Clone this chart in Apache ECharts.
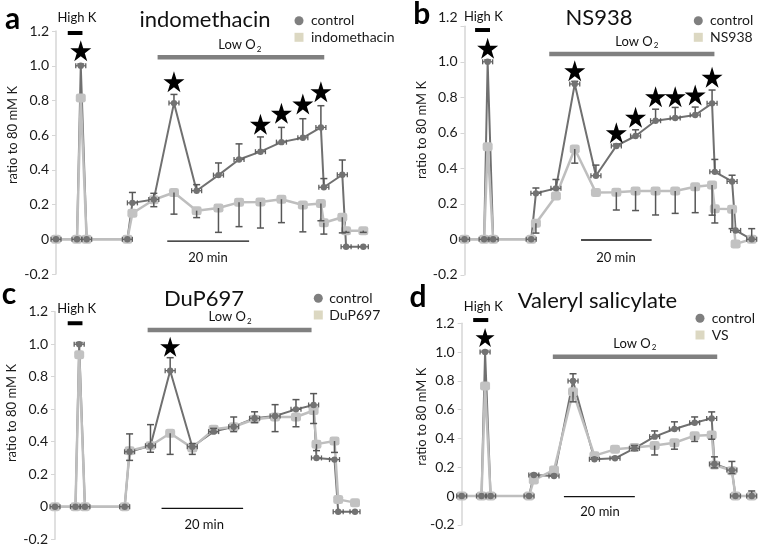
<!DOCTYPE html>
<html><head><meta charset="utf-8">
<script src="https://cdn.jsdelivr.net/npm/echarts@6/dist/echarts.min.js"></script>
<style>html,body{margin:0;padding:0;background:#fff}#c{width:761px;height:549px}</style>
</head><body><div id="c"></div>
<script>
// time of each sample (min)
const T = [0, 5, 5.9, 7.3, 17, 18.2, 23.3, 28.1, 33.5, 38.7, 43.6, 48.7, 53.7, 58.8, 63.1, 63.8, 68.2, 69.1, 73.2];
const yTicks = [-0.2, 0, 0.2, 0.4, 0.6, 0.8, 1.0, 1.2];

// panel a : indomethacin
const ctrlA    = [0, 0, 1.0, 0, 0, 0.21, 0.23, 0.785, 0.28, 0.37, 0.46, 0.505, 0.56, 0.585, 0.645, 0.30, 0.372, -0.043, -0.043];
const ctrlAErr = [0, 0, 0.01, 0, 0, 0.06, 0.035, 0.05, 0.035, 0.07, 0.09, 0.085, 0.085, 0.11, 0.125, 0.05, 0.085, 0, 0];
const indoA    = [0, 0, 0.815, 0, 0, 0.15, 0.228, 0.27, 0.165, 0.18, 0.213, 0.215, 0.231, 0.198, 0.207, 0.095, 0.127, 0.05, 0.05];
const indoAErr = [0, 0, 0, 0, 0, 0, 0.04, 0.125, 0.04, 0.14, 0.14, 0.15, 0.135, 0.155, 0.10, 0.065, 0.09, 0.01, 0.01];
const starsA   = [[2, 1.087], [7, 0.908], [11, 0.663], [12, 0.726], [13, 0.78], [14, 0.851]];

// panel b : NS938
const ctrlB    = [0, 0, 1.0, 0, 0, 0.259, 0.287, 0.875, 0.358, 0.526, 0.582, 0.668, 0.683, 0.70, 0.766, 0.38, 0.326, 0.05, 0.0];
const ctrlBErr = [0, 0, 0.01, 0, 0, 0.03, 0.05, 0.015, 0.06, 0.01, 0.035, 0.065, 0.06, 0.045, 0.075, 0.07, 0.035, 0, 0.06];
const nsB      = [0, 0, 0.522, 0, 0, 0.09, 0.244, 0.509, 0.263, 0.265, 0.272, 0.272, 0.272, 0.296, 0.306, 0.172, 0.17, -0.026, 0.0];
const nsBErr   = [0, 0, 0, 0, 0, 0.055, 0, 0.08, 0, 0.1, 0.11, 0.135, 0.126, 0.146, 0.17, 0.08, 0.11, 0, 0];
const starsB   = [[2, 1.076], [7, 0.95], [9, 0.60], [10, 0.687], [11, 0.803], [12, 0.803], [13, 0.813], [14, 0.913]];

// panel c : DuP697
const ctrlC    = [0, 0, 1.0, 0, 0, 0.338, 0.375, 0.837, 0.369, 0.462, 0.492, 0.544, 0.558, 0.599, 0.626, 0.30, 0.29, -0.031, -0.031];
const ctrlCErr = [0, 0, 0.01, 0, 0, 0.11, 0.13, 0.08, 0.02, 0.02, 0.06, 0.04, 0.07, 0.06, 0.07, 0, 0, 0, 0];
const dupC     = [0, 0, 0.935, 0, 0, 0.345, 0.375, 0.452, 0.362, 0.476, 0.492, 0.538, 0.552, 0.552, 0.592, 0.385, 0.404, 0.045, 0.025];
const dupCErr  = [0, 0, 0, 0, 0, 0.06, 0.04, 0.13, 0.04, 0.02, 0.03, 0.02, 0.09, 0.06, 0.08, 0.04, 0.07, 0, 0];
const starsC   = [[7, 0.985]];

// panel d : Valeryl salicylate
const ctrlD    = [0, 0, 1.0, 0, 0, 0.146, 0.139, 0.799, 0.255, 0.262, 0.331, 0.412, 0.465, 0.509, 0.539, 0.222, 0.18, 0, 0];
const ctrlDErr = [0, 0, 0.01, 0, 0, 0.01, 0.01, 0.05, 0.01, 0.01, 0.02, 0.04, 0.05, 0.04, 0.045, 0.05, 0.06, 0, 0.035];
const vsD      = [0, 0, 0.764, 0, 0, 0.111, 0.181, 0.724, 0.28, 0.324, 0.336, 0.35, 0.37, 0.419, 0.424, 0.215, 0.176, 0, 0];
const vsDErr   = [0, 0, 0, 0, 0, 0, 0, 0.07, 0, 0, 0.02, 0.065, 0.045, 0.04, 0.03, 0.02, 0.02, 0, 0];
const starsD   = [[2, 1.10]];

const titles = ['indomethacin', 'NS938', 'DuP697', 'Valeryl salicylate'];
const letters = ['a', 'b', 'c', 'd'];
const trtNames = ['indomethacin', 'NS938', 'DuP697', 'VS'];

// annotation placement in data units (time, ratio)
const ann = [
  {hk:[2.8, 6.3, 1.189], hkT:[5.0, 1.275], lo:[24.2, 63.9, 1.049], loT:[43.8, 1.12], sc:[26.5, 46.0, -0.01], scT:[36.2, -0.108]},
  {hk:[2.7, 6.5, 1.179], hkT:[4.8, 1.254], lo:[21.6, 63.7, 1.044], loT:[43.9, 1.113], sc:[29.7, 47.7, -0.004], scT:[38.6, -0.107]},
  {hk:[3.1, 6.7, 1.129], hkT:[5.3, 1.215], lo:[22.6, 62.6, 1.087], loT:[42.7, 1.166], sc:[26.0, 45.9, -0.01], scT:[36.4, -0.113]},
  {hk:[2.9, 6.7, 1.222], hkT:[5.45, 1.315], lo:[23.0, 64.5, 0.967], loT:[43.7, 1.06], sc:[25.8, 43.7, -0.005], scT:[34.9, -0.109]}
];

const FONT = 'Lato, "Open Sans", sans-serif';
const grids = [
  {left:56, top:31.1, width:307.3, height:242.9},
  {left:464.5, top:26.3, width:287.2, height:248.5},
  {left:55, top:311.7, width:300, height:227.5},
  {left:461.7, top:323.2, width:290, height:201.6}
];

const STAR = 'path://M50,0 L61.2,34.5 L97.6,34.5 L68.2,55.9 L79.4,90.5 L50,69.1 L20.6,90.5 L31.8,55.9 L2.4,34.5 L38.8,34.5 Z';

function errRender(dir) {
  return function (params, api) {
    const e = api.value(2);
    if (!e) return null;
    const a = api.coord([api.value(0), api.value(1)]);
    const b = api.coord([api.value(0), api.value(1) + dir * e]);
    const st = {stroke:'#575757', lineWidth:1.5};
    return {type:'group', children:[
      {type:'line', shape:{x1:a[0], y1:a[1], x2:b[0], y2:b[1]}, style:st},
      {type:'line', shape:{x1:b[0]-3.5, y1:b[1], x2:b[0]+3.5, y2:b[1]}, style:st}
    ]};
  };
}
function ctrlMarker(params, api) {
  const p = api.coord([api.value(0), api.value(1)]);
  const st = {stroke:'#606060', lineWidth:1.3};
  return {type:'group', children:[
    {type:'line', shape:{x1:p[0]-5, y1:p[1], x2:p[0]+5, y2:p[1]}, style:st},
    {type:'line', shape:{x1:p[0]-5, y1:p[1]-2.5, x2:p[0]-5, y2:p[1]+2.5}, style:st},
    {type:'line', shape:{x1:p[0]+5, y1:p[1]-2.5, x2:p[0]+5, y2:p[1]+2.5}, style:st},
    {type:'circle', shape:{cx:p[0], cy:p[1], r:3.2}, style:{fill:'#727272'}}
  ]};
}
function annRender(a) {
  return function (params, api) {
    const h1 = api.coord([a.hk[0], a.hk[2]]), h2 = api.coord([a.hk[1], a.hk[2]]);
    const l1 = api.coord([a.lo[0], a.lo[2]]), l2 = api.coord([a.lo[1], a.lo[2]]);
    const s1 = api.coord([a.sc[0], a.sc[2]]), s2 = api.coord([a.sc[1], a.sc[2]]);
    const ht = api.coord(a.hkT), lt = api.coord(a.loT), stt = api.coord(a.scT);
    return {type:'group', children:[
      {type:'line', shape:{x1:h1[0], y1:h1[1], x2:h2[0], y2:h2[1]}, style:{stroke:'#000', lineWidth:4}},
      {type:'line', shape:{x1:l1[0], y1:l1[1], x2:l2[0], y2:l2[1]}, style:{stroke:'#808080', lineWidth:4.5}},
      {type:'line', shape:{x1:s1[0], y1:s1[1], x2:s2[0], y2:s2[1]}, style:{stroke:'#111', lineWidth:1.3}},
      {type:'text', x:ht[0], y:ht[1], style:{text:'High K', fill:'#111', font:'13px ' + FONT, align:'center', verticalAlign:'middle'}},
      {type:'text', x:stt[0], y:stt[1], style:{text:'20 min', fill:'#111', font:'13px ' + FONT, align:'center', verticalAlign:'middle'}},
      {type:'text', x:lt[0], y:lt[1], style:{text:'{a|Low O}{s|2}', fill:'#111', align:'center', verticalAlign:'middle',
        rich:{a:{fontSize:13, fontFamily:FONT, fill:'#111', lineHeight:16}, s:{fontSize:8, fontFamily:FONT, fill:'#111', lineHeight:16, verticalAlign:'bottom', padding:[7,0,0,1]}}}}
    ]};
  };
}

const panels = [
  [ctrlA, ctrlAErr, indoA, indoAErr, starsA, 21],
  [ctrlB, ctrlBErr, nsB, nsBErr, starsB, 21],
  [ctrlC, ctrlCErr, dupC, dupCErr, starsC, 20],
  [ctrlD, ctrlDErr, vsD, vsDErr, starsD, 19]
];

const series = [];
panels.forEach((p, gi) => {
  const [ctrl, ctrlErr, trt, trtErr, stars, starSize] = p;
  const ax = {xAxisIndex:gi, yAxisIndex:gi, animation:false, silent:true};
  series.push(Object.assign({type:'line', name:'control', data:T.map((t,k)=>[t, ctrl[k]]), symbol:'none',
    lineStyle:{color:'#707070', width:2}, z:2}, ax));
  series.push(Object.assign({type:'line', name:trtNames[gi], data:T.map((t,k)=>[t, trt[k]]), symbol:'roundRect', symbolSize:[10,9],
    itemStyle:{color:'#c2c2c2'}, lineStyle:{color:'#bebebe', width:2.5}, z:3}, ax));
  series.push(Object.assign({type:'custom', data:T.map((t,k)=>[t, trt[k], trtErr[k]]), renderItem:errRender(-1), encode:{x:0, y:1}, z:4}, ax));
  series.push(Object.assign({type:'custom', data:T.map((t,k)=>[t, ctrl[k], ctrlErr[k]]), renderItem:errRender(1), encode:{x:0, y:1}, z:4}, ax));
  series.push(Object.assign({type:'custom', data:T.map((t,k)=>[t, ctrl[k]]), renderItem:ctrlMarker, encode:{x:0, y:1}, z:5}, ax));
  series.push(Object.assign({type:'scatter', data:stars.map(s=>[T[s[0]], s[1]]), symbol:STAR, symbolSize:starSize,
    itemStyle:{color:'#000', opacity:1}, z:6}, ax));
  series.push(Object.assign({type:'custom', data:[[0,0]], renderItem:annRender(ann[gi]), encode:{x:0, y:1}, clip:false, z:6}, ax));
});

function fmt(v) { return Math.abs(v) < 1e-9 ? '0' : v.toFixed(1); }
const yAxes = grids.map((g, gi) => ({
  gridIndex:gi, type:'value', min:yTicks[0], max:yTicks[yTicks.length-1], interval:0.2,
  splitLine:{show:false},
  axisLine:{show:true, lineStyle:{color:'#d6d6d6', width:1.5}},
  axisTick:{show:true, length:4, lineStyle:{color:'#d6d6d6'}},
  axisLabel:{margin:7, color:'#1a1a1a', fontSize:14, fontFamily:FONT,
    formatter: v => (gi === 1 && Math.abs(v - 1.2) < 1e-6) ? '{up|1.2}' : fmt(v),
    rich:{up:{fontSize:14, fontFamily:FONT, color:'#1a1a1a', padding:[0,0,18,0]}}}
}));
const xAxes = grids.map((g, gi) => ({gridIndex:gi, type:'value', min:0, max:73.2, show:false}));

const legendPos = [[299, 20.7, 311, 37.3], [698.3, 20.7, 710, 37.3], [318.3, 298.3, 329.3, 315], [700, 318.3, 711.7, 335]];
const titlePos = [[205, 20], [599, 18], [204, 299], [597.5, 301]];
const letterPos = [[12.5, 19], [421.7, 14], [9, 294], [418, 297.5]];
const namePos = [[13, 135], [421.7, 130], [12, 413], [421.7, 416.7]];

const graphic = [];
for (let i = 0; i < 4; i++) {
  const [cx, cy, tx, cy2] = legendPos[i];
  graphic.push({type:'circle', shape:{cx:cx, cy:cy, r:4.5}, style:{fill:'#7f7f7f'}});
  graphic.push({type:'text', x:tx, y:cy, style:{text:'control', fill:'#1a1a1a', font:'14px ' + FONT, align:'left', verticalAlign:'middle'}});
  graphic.push({type:'rect', shape:{x:cx-4.5, y:cy2-4.5, width:9, height:9}, style:{fill:'#dcd8c2'}});
  graphic.push({type:'text', x:tx, y:cy2, style:{text:trtNames[i], fill:'#1a1a1a', font:'14px ' + FONT, align:'left', verticalAlign:'middle'}});
  graphic.push({type:'text', x:titlePos[i][0], y:titlePos[i][1], style:{text:titles[i], fill:'#111', font:'22px ' + FONT, align:'center', verticalAlign:'middle'}});
  graphic.push({type:'text', x:letterPos[i][0], y:letterPos[i][1], style:{text:letters[i], fill:'#000', font:'bold 30px ' + FONT, align:'center', verticalAlign:'middle'}});
  graphic.push({type:'text', x:namePos[i][0], y:namePos[i][1], rotation:Math.PI/2, style:{text:'ratio to 80 mM K', fill:'#1a1a1a', font:'13px ' + FONT, align:'center', verticalAlign:'middle'}});
}

const chart = echarts.init(document.getElementById('c'), null, {renderer:'canvas'});
chart.setOption({
  animation:false,
  backgroundColor:'#fff',
  grid:grids.map(g => Object.assign({containLabel:false}, g)),
  xAxis:xAxes, yAxis:yAxes, series:series, graphic:graphic
});
</script></body></html>
